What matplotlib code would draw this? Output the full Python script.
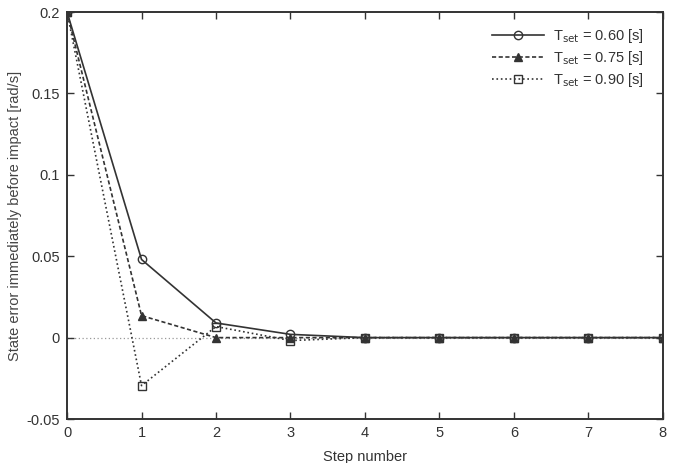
import matplotlib.pyplot as plt
import numpy as np

plt.rcParams['font.family'] = ['Liberation Sans', 'DejaVu Sans']

steps = np.arange(0, 9)
err_060 = [0.2, 0.048, 0.009, 0.002, 0.0, 0.0, 0.0, 0.0, 0.0]
err_075 = [0.2, 0.0135, 0.0, 0.0, 0.0, 0.0, 0.0, 0.0, 0.0]
err_090 = [0.2, -0.0295, 0.0068, -0.0018, 0.0, 0.0, 0.0, 0.0, 0.0]
labels = [r'T$_{\rm set}$ = 0.60 [s]', r'T$_{\rm set}$ = 0.75 [s]', r'T$_{\rm set}$ = 0.90 [s]']
yticks = [-0.05, 0, 0.05, 0.1, 0.15, 0.2]
yticklabels = ['-0.05', '0', '0.05', '0.1', '0.15', '0.2']

fs = 10.5
fig = plt.figure(figsize=(6.74, 4.63), dpi=100)
ax = fig.add_axes([0.0995, 0.095, 0.884, 0.879])

ax.axhline(0, color='#999999', lw=0.9, ls=(0, (1, 2)), zorder=1)
ax.plot(steps, err_060, '-', color='#333333', lw=1.2, marker='o', ms=6,
        mfc='none', mec='#333333', mew=1.0, label=labels[0])
ax.plot(steps, err_075, '--', color='#333333', lw=1.2, dashes=(2.5, 1.5), marker='^', ms=6,
        mfc='#333333', mec='#333333', label=labels[1])
ax.plot(steps, err_090, ':', color='#333333', lw=1.2, marker='s', ms=6,
        mfc='none', mec='#333333', mew=1.0, label=labels[2])

ax.set_xlim(0, 8)
ax.set_ylim(-0.05, 0.2)
ax.set_xticks(range(0, 9))
ax.set_yticks(yticks)
ax.set_yticklabels(yticklabels)
ax.tick_params(direction='in', top=True, right=True, labelsize=fs, colors='#333333',
               length=5, width=1.0, pad=5)
for s in ax.spines.values():
    s.set_color('#333333')
    s.set_linewidth(1.4)

ax.set_xlabel('Step number', fontsize=fs, color='#333333', labelpad=7)
ax.set_ylabel('State error immediately before impact [rad/s]', fontsize=fs,
              color='#444444', labelpad=3)

leg = ax.legend(loc='upper right', bbox_to_anchor=(0.992, 1.0), frameon=False, fontsize=fs,
                handlelength=3.6, handletextpad=0.6, borderaxespad=0.6, labelspacing=0.3)
for t in leg.get_texts():
    t.set_color('#333333')

fig.savefig('out.png', dpi=100)
